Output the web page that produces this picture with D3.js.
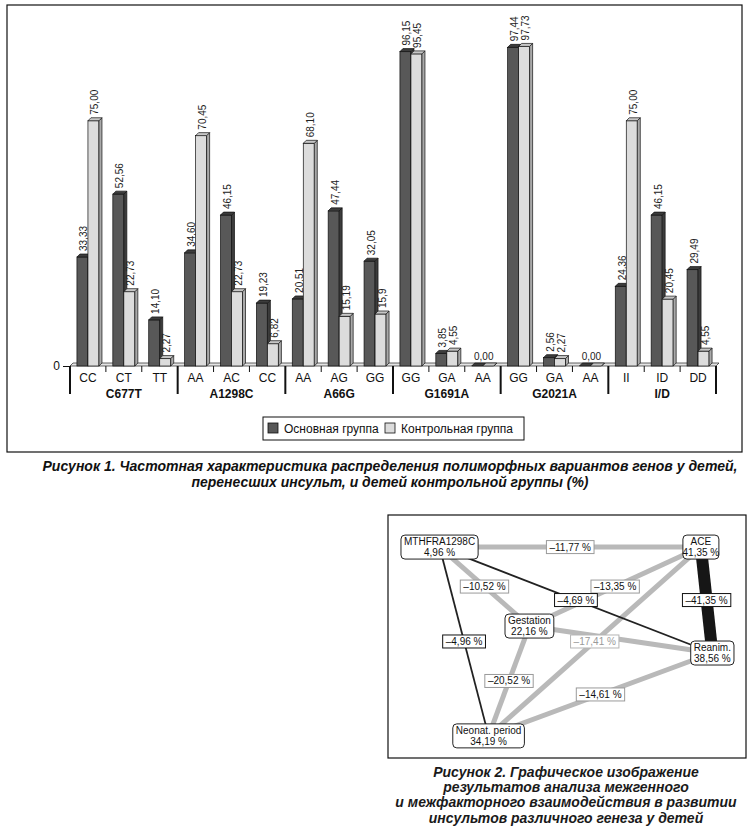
<!DOCTYPE html>
<html>
<head>
<meta charset="utf-8">
<script src="https://cdn.jsdelivr.net/npm/d3@7"></script>
<style>
  body { margin: 0; background: #fff; }
  svg { display: block; font-family: "Liberation Sans", Arial, sans-serif; }
</style>
</head>
<body>
<svg id="page" width="752" height="832"></svg>
<script>
// --- Figure 1 data ---
var groups = ["C677T", "A1298C", "A66G", "G1691A", "G2021A", "I/D"];
var genotypes = ["CC", "CT", "TT", "AA", "AC", "CC", "AA", "AG", "GG",
                 "GG", "GA", "AA", "GG", "GA", "AA", "II", "ID", "DD"];
var mainValues = ["33,33", "52,56", "14,10", "34,60", "46,15", "19,23", "20,51", "47,44", "32,05",
                  "96,15", "3,85", "0,00", "97,44", "2,56", "0,00", "24,36", "46,15", "29,49"];
var controlValues = ["75,00", "22,73", "2,27", "70,45", "22,73", "6,82", "68,10", "15,19", "15,9",
                     "95,45", "4,55", "0,00", "97,73", "2,27", "0,00", "75,00", "20,45", "4,55"];
var seriesNames = ["Основная группа", "Контрольная группа"];
var yTicks = [0];

// --- Figure 2 data ---
var nodeNames = ["MTHFRA1298C", "ACE", "Gestation", "Reanim.", "Neonat. period"];
var nodeValues = ["4,96 %", "41,35 %", "22,16 %", "38,56 %", "34,19 %"];
// [source, target, label, kind]
var edges = [
    ["MTHFRA1298C", "ACE", "–11,77 %", "light"],
    ["MTHFRA1298C", "Gestation", "–10,52 %", "light"],
    ["Gestation", "ACE", "–13,35 %", "light"],
    ["Gestation", "Reanim.", "", "light"],
    ["Neonat. period", "ACE", "–17,41 %", "faded"],
    ["Gestation", "Neonat. period", "–20,52 %", "light"],
    ["Neonat. period", "Reanim.", "–14,61 %", "light"],
    ["ACE", "Reanim.", "–41,35 %", "strong"],
    ["MTHFRA1298C", "Reanim.", "–4,69 %", "weak"],
    ["MTHFRA1298C", "Neonat. period", "–4,96 %", "weak"]
];
// relative node placement inside the frame (0..1)
var nodeLayout = [[0.144, 0.132], [0.874, 0.132], [0.395, 0.457], [0.906, 0.568], [0.281, 0.909]];

var num = function (s) { return +s.replace(",", "."); };
var svg = d3.select("#page");

/* ================= FIGURE 1 ================= */
var f1 = svg.append("g");
f1.append("rect").attr("x", 7).attr("y", 5).attr("width", 735).attr("height", 447)
    .attr("fill", "none").attr("stroke", "#111").attr("stroke-width", 1.2);

var baseY = 366, depth = 3;
var x = d3.scaleBand().domain(d3.range(genotypes.length)).range([70, 716]).padding(0);
var xs = d3.scaleBand().domain([0, 1]).range([0, x.bandwidth()]).paddingInner(0).paddingOuter(0.63);
var y = d3.scaleLinear().domain([0, 100]).range([baseY, 39]);

// floor
f1.append("polygon")
    .attr("points", [[70, baseY], [716, baseY], [716 + depth, baseY - depth], [70 + depth, baseY - depth]].join(" "))
    .attr("fill", "#e4e4e4").attr("stroke", "#222").attr("stroke-width", 0.7);

// y axis (only zero)
var yAxis = d3.axisLeft(y).tickValues(yTicks).tickSize(7).tickFormat(d3.format("d"));
var yg = f1.append("g").attr("transform", "translate(70,0)").call(yAxis);
yg.select(".domain").remove();
yg.selectAll("text").attr("font-size", 12).attr("fill", "#111").attr("font-family", "Liberation Sans, Arial");
yg.selectAll("line").attr("stroke", "#111");

var seriesStyle = [
    {front: "#585858", top: "#3c3c3c", side: "#3c3c3c"},
    {front: "#dcdcdc", top: "#c6c6c6", side: "#a9a9a9"}
];
var seriesVals = [mainValues, controlValues];

var barData = [];
genotypes.forEach(function (g, i) {
    [0, 1].forEach(function (s) {
        barData.push({i: i, s: s, label: seriesVals[s][i], v: num(seriesVals[s][i])});
    });
});

var bars = f1.append("g").selectAll("g.bar").data(barData).enter().append("g").attr("class", "bar");
bars.each(function (d) {
    var g = d3.select(this);
    var bx = x(d.i) + xs(d.s), bw = xs.bandwidth();
    var top = y(d.v), st = seriesStyle[d.s];
    g.append("rect").attr("x", bx).attr("y", top).attr("width", bw).attr("height", baseY - top)
        .attr("fill", st.front).attr("stroke", "#111").attr("stroke-width", 0.7);
    g.append("polygon")
        .attr("points", [[bx + bw, top], [bx + bw + depth, top - depth], [bx + bw + depth, baseY - depth], [bx + bw, baseY]].join(" "))
        .attr("fill", st.side).attr("stroke", "#111").attr("stroke-width", 0.7);
    g.append("polygon")
        .attr("points", [[bx, top], [bx + depth, top - depth], [bx + bw + depth, top - depth], [bx + bw, top]].join(" "))
        .attr("fill", st.top).attr("stroke", "#111").attr("stroke-width", 0.7);
});

// value labels (a zero pair shares one horizontal label)
bars.filter(function (d) { return !(d.v === 0 && d.s === 0); })
    .append("text")
    .attr("font-size", 10).attr("fill", "#222")
    .attr("transform", function (d) {
        var cx = x(d.i) + xs(d.s) + xs.bandwidth() / 2 + 1.5;
        if (d.v === 0) return "translate(" + (x(d.i) + x.bandwidth() / 2 + 1) + "," + (y(0) - 6) + ")";
        return "translate(" + (cx + 3.5) + "," + (y(d.v) - depth - 3) + ") rotate(-90)";
    })
    .attr("text-anchor", function (d) { return d.v === 0 ? "middle" : "start"; })
    .text(function (d) { return d.label; });

// category axis
var xAxis = d3.axisBottom(x).tickSize(0).tickFormat(function (i) { return genotypes[i]; });
var xg = f1.append("g").attr("transform", "translate(0," + baseY + ")").call(xAxis);
xg.select(".domain").remove();
xg.selectAll("text").attr("font-size", 12).attr("fill", "#111").attr("dy", "1.05em")
    .attr("font-family", "Liberation Sans, Arial");

// separators
var sepX = d3.range(genotypes.length + 1).map(function (i) {
    return i < genotypes.length ? x(i) : x.range()[1];
});
f1.append("g").selectAll("line").data(sepX).enter().append("line")
    .attr("x1", function (d) { return d; }).attr("x2", function (d) { return d; })
    .attr("y1", baseY)
    .attr("y2", function (d, i) { return i % 3 === 0 ? baseY + 28 : baseY + 6; })
    .attr("stroke", "#111")
    .attr("stroke-width", function (d, i) { return i % 3 === 0 ? 2 : 1; });

// group labels
f1.append("g").selectAll("text").data(groups).enter().append("text")
    .attr("x", function (d, i) { return (x(i * 3) + sepX[i * 3 + 3]) / 2; })
    .attr("y", baseY + 32)
    .attr("text-anchor", "middle").attr("font-size", 12).attr("font-weight", "bold").attr("fill", "#111")
    .text(function (d) { return d; });

// legend
var lg = f1.append("g").attr("transform", "translate(263,417)");
lg.append("rect").attr("width", 261).attr("height", 23).attr("fill", "#fff").attr("stroke", "#111");
var legX = [5, 122];
seriesNames.forEach(function (n, s) {
    lg.append("rect").attr("x", legX[s]).attr("y", 6).attr("width", 10).attr("height", 10)
        .attr("fill", seriesStyle[s].front).attr("stroke", "#111").attr("stroke-width", 0.8);
    lg.append("text").attr("x", legX[s] + 16).attr("y", 15.5).attr("font-size", 12).attr("fill", "#111").text(n);
});

// caption 1
var cap1 = ["Рисунок 1. Частотная характеристика распределения полиморфных вариантов генов у детей,",
            "перенесших инсульт, и детей контрольной группы (%)"];
var cap1W = [695, 397];
svg.append("g").selectAll("text").data(cap1).enter().append("text")
    .attr("x", 390).attr("y", function (d, i) { return 471 + i * 16; })
    .attr("text-anchor", "middle")
    .attr("font-family", "Liberation Sans Narrow, Liberation Sans, Arial")
    .attr("font-size", 14).attr("font-weight", "bold").attr("font-style", "italic").attr("fill", "#111")
    .attr("textLength", function (d, i) { return cap1W[i]; })
    .attr("lengthAdjust", "spacingAndGlyphs")
    .text(function (d) { return d; });

/* ================= FIGURE 2 ================= */
var f2 = svg.append("g");
var fx = 388, fy = 515, fw = 358, fh = 243;
f2.append("rect").attr("x", fx).attr("y", fy).attr("width", fw).attr("height", fh)
    .attr("fill", "none").attr("stroke", "#111").attr("stroke-width", 1.2);
var nx = d3.scaleLinear().domain([0, 1]).range([fx, fx + fw]);
var ny = d3.scaleLinear().domain([0, 1]).range([fy, fy + fh]);

var nodes = nodeNames.map(function (n, i) {
    return {name: n, value: nodeValues[i], x: nx(nodeLayout[i][0]), y: ny(nodeLayout[i][1])};
});
var byName = {};
nodes.forEach(function (n) { byName[n.name] = n; });

var edgeStyle = {
    light: {stroke: "#b9b9b9", width: 5, box: "#9a9a9a", text: "#111"},
    faded: {stroke: "#b9b9b9", width: 5, box: "#b5b5b5", text: "#9a9a9a"},
    strong: {stroke: "#161616", width: 12, box: "#111", text: "#111"},
    weak: {stroke: "#222", width: 1.8, box: "#111", text: "#111"}
};

var edgeData = edges.map(function (e) {
    return {s: byName[e[0]], t: byName[e[1]], label: e[2], st: edgeStyle[e[3]]};
});

f2.append("g").selectAll("line").data(edgeData).enter().append("line")
    .attr("x1", function (d) { return d.s.x; }).attr("y1", function (d) { return d.s.y; })
    .attr("x2", function (d) { return d.t.x; }).attr("y2", function (d) { return d.t.y; })
    .attr("stroke", function (d) { return d.st.stroke; })
    .attr("stroke-width", function (d) { return d.st.width; });

// nodes
var ng = f2.append("g").selectAll("g").data(nodes).enter().append("g")
    .attr("transform", function (d) { return "translate(" + d.x + "," + d.y + ")"; });
ng.append("rect").attr("rx", 4).attr("ry", 4).attr("fill", "#fff").attr("stroke", "#222").attr("stroke-width", 1);
ng.append("text").attr("text-anchor", "middle").attr("y", -2).attr("font-size", 10).attr("fill", "#111")
    .attr("class", "nm").text(function (d) { return d.name; });
ng.append("text").attr("text-anchor", "middle").attr("y", 9).attr("font-size", 10).attr("fill", "#111")
    .text(function (d) { return d.value; });
ng.each(function () {
    var g = d3.select(this);
    var w = Math.max(g.select(".nm").node().getBBox().width, 30) + 6;
    g.select("rect").attr("x", -w / 2).attr("y", -12).attr("width", w).attr("height", 24);
});

// edge labels
var el = f2.append("g").selectAll("g").data(edgeData.filter(function (d) { return d.label; })).enter().append("g")
    .attr("transform", function (d) { return "translate(" + ((d.s.x + d.t.x) / 2) + "," + ((d.s.y + d.t.y) / 2) + ")"; });
el.append("rect").attr("fill", "#fff")
    .attr("stroke", function (d) { return d.st.box; }).attr("stroke-width", 1);
el.append("text").attr("text-anchor", "middle").attr("y", 3.5).attr("font-size", 10)
    .attr("fill", function (d) { return d.st.text; })
    .text(function (d) { return d.label; });
el.each(function () {
    var g = d3.select(this);
    var w = g.select("text").node().getBBox().width + 6;
    g.select("rect").attr("x", -w / 2).attr("y", -6.5).attr("width", w).attr("height", 13);
});

// caption 2
var cap2 = ["Рисунок 2. Графическое изображение",
            "результатов анализа межгенного",
            "и межфакторного взаимодействия в развитии",
            "инсультов различного генеза у детей"];
svg.append("g").selectAll("text").data(cap2).enter().append("text")
    .attr("x", 566).attr("y", function (d, i) { return 777 + i * 15.2; })
    .attr("text-anchor", "middle")
    .attr("font-size", 14).attr("font-weight", "bold").attr("font-style", "italic").attr("fill", "#1a1a1a")
    .text(function (d) { return d; });
</script>
</body>
</html>
